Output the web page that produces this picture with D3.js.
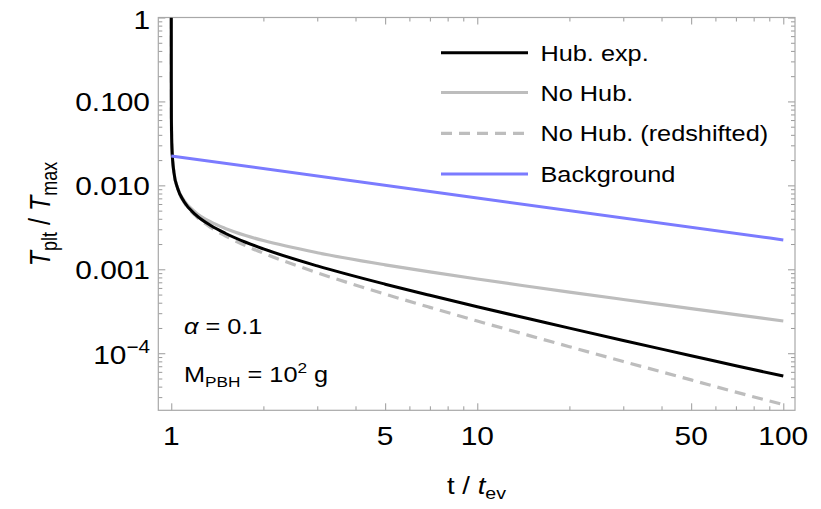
<!DOCTYPE html>
<html><head><meta charset="utf-8">
<script src="https://cdn.jsdelivr.net/npm/d3@7"></script>
<style>
html,body{margin:0;padding:0;background:#fff;}
text{font-family:"Liberation Sans",Arial,sans-serif;fill:#000;}
</style></head>
<body><svg id="chart" width="821" height="509"></svg>
<script>
// ---- data ----
const tVals    = [1, 1.0001, 1.001, 1.005, 1.02, 1.05, 1.1, 1.2, 1.35, 1.5, 1.75, 2, 3, 5, 7, 10, 15, 20, 30, 50, 70, 100];
const hubExp   = [1, 0.183, 0.0605, 0.0280, 0.0143, 0.00912, 0.00643, 0.00448, 0.00330, 0.00269, 0.00210, 0.00175, 0.001098, 0.000665, 0.000490, 0.000358, 0.000254, 0.000199, 0.000142, 0.0000935, 0.0000709, 0.0000535];
const noHub    = [1, 0.183, 0.0605, 0.0280, 0.01439, 0.00927, 0.00664, 0.00476, 0.00364, 0.00307, 0.002526, 0.0022, 0.001577, 0.001131, 0.000931, 0.000766, 0.000620, 0.000535, 0.000437, 0.000340, 0.000288, 0.000242];
const noHubRed = [1, 0.183, 0.0605, 0.0279, 0.01425, 0.00905, 0.00633, 0.00435, 0.00313, 0.00251, 0.00191, 0.001556, 0.000911, 0.000506, 0.000352, 0.000242, 0.000160, 0.0001197, 0.0000798, 0.0000481, 0.0000344, 0.0000245];
const bgT      = [1, 10, 100];
const bgVals   = [0.0224, 0.00708, 0.00224];
const seriesNames = ["Hub. exp.", "No Hub.", "No Hub. (redshifted)", "Background"];
const xMajor = [1, 5, 10, 50, 100];
const xMajorLabels = ["1", "5", "10", "50", "100"];
const xMinor = [2, 3, 4, 6, 7, 8, 9, 20, 30, 40, 60, 70, 80, 90];
const yMajor = [1, 0.1, 0.01, 0.001, 0.0001];
const yMajorLabels = ["1", "0.100", "0.010", "0.001", "10|−4"];

// ---- layout ----
const svg = d3.select("#chart");
const L = 158.3, R = 795, T = 17.5, B = 410.3;
const SX = 1.15;
const x = d3.scaleLog().domain([0.907, 109.2]).range([L, R]);
const y = d3.scaleLog().domain([2.09e-5, 1]).range([B, T]);

const yMinor = [];
[1e-5, 1e-4, 1e-3, 1e-2, 1e-1].forEach(d => { for (let k = 2; k <= 9; k++) { const v = d * k; if (v >= 2.09e-5 && v < 1) yMinor.push(v); } });

svg.append("clipPath").attr("id", "clip").append("rect")
  .attr("x", L).attr("y", T).attr("width", R - L).attr("height", B - T);

// ---- ticks (inward on all four sides) ----
const tickColor = "#9a9a9a";
function styleAxis(g) {
  g.select(".domain").remove();
  g.selectAll(".tick line").attr("stroke", tickColor).attr("stroke-width", 1);
  g.selectAll(".tick text").remove();
}
[[d3.axisBottom, B, -7, xMajor], [d3.axisBottom, B, -4, xMinor], [d3.axisTop, T, -7, xMajor], [d3.axisTop, T, -4, xMinor]]
  .forEach(([ax, pos, len, vals]) => {
    svg.append("g").attr("transform", `translate(0,${pos})`)
      .call(ax(x).tickValues(vals).tickSize(len).tickFormat(() => "")).call(styleAxis);
  });
[[d3.axisLeft, L, -7, yMajor], [d3.axisLeft, L, -4, yMinor], [d3.axisRight, R, -7, yMajor], [d3.axisRight, R, -4, yMinor]]
  .forEach(([ax, pos, len, vals]) => {
    svg.append("g").attr("transform", `translate(${pos},0)`)
      .call(ax(y).tickValues(vals).tickSize(len).tickFormat(() => "")).call(styleAxis);
  });

// frame
svg.append("rect").attr("x", L).attr("y", T).attr("width", R - L).attr("height", B - T)
  .attr("fill", "none").attr("stroke", "#a8a8a8").attr("stroke-width", 1.2);

// ---- curves ----
const line = d3.line().x(d => x(d[0])).y(d => y(d[1])).curve(d3.curveMonotoneX);
const plot = svg.append("g").attr("clip-path", "url(#clip)");
const series = [
  { vals: noHub, t: tVals, color: "#bdbdbd", dash: null, w: 3.2 },
  { vals: noHubRed, t: tVals, color: "#bdbdbd", dash: "11,7", w: 3.2 },
  { vals: hubExp, t: tVals, color: "#000000", dash: null, w: 3 },
  { vals: bgVals, t: bgT, color: "#7b7bff", dash: null, w: 3 }
];
series.forEach(s => {
  plot.append("path").datum(s.t.map((t, i) => [t, s.vals[i]]))
    .attr("d", line).attr("fill", "none").attr("stroke", s.color)
    .attr("stroke-width", s.w).attr("stroke-dasharray", s.dash);
});

// ---- text helper (Mathematica export is horizontally stretched) ----
function stext(px, py, size, anchor) {
  return svg.append("text").attr("transform", `translate(${px},${py}) scale(${SX},1)`)
    .attr("font-size", size).attr("text-anchor", anchor || "start");
}

// x tick labels
xMajor.forEach((v, i) => stext(x(v), 445, 26, "middle").text(xMajorLabels[i]));
// y tick labels
yMajor.forEach((v, i) => {
  const lab = yMajorLabels[i];
  const base = (i === 0 ? y(v) + 11 : y(v) + 9.5);
  if (lab.includes("|")) {
    const [b, e] = lab.split("|");
    const t = stext(150, y(v) + 11, 26, "end");
    t.append("tspan").text(b);
    t.append("tspan").attr("font-size", 18).attr("dy", -11).text(e);
  } else {
    stext(150, base, 26, "end").text(lab);
  }
});

// axis titles
const xt = stext(476.5, 494, 24, "middle");
xt.append("tspan").text("t / ");
xt.append("tspan").attr("font-style", "italic").text("t");
xt.append("tspan").attr("font-size", 17).attr("dy", 5).text("ev");

const yt = svg.append("text").attr("transform", `translate(50,214) scale(1.2,1) rotate(-90)`)
  .attr("font-size", 25).attr("text-anchor", "middle");
yt.append("tspan").attr("font-style", "italic").text("T");
yt.append("tspan").attr("font-size", 18).attr("dy", 6).text("plt");
yt.append("tspan").attr("dy", -6).text(" / ");
yt.append("tspan").attr("font-style", "italic").text("T");
yt.append("tspan").attr("font-size", 18).attr("dy", 6).text("max");

// annotations
const a1 = stext(184, 334, 22);
a1.append("tspan").attr("font-style", "italic").text("α");
a1.append("tspan").text(" = 0.1");
const a2 = stext(184, 382, 22);
a2.append("tspan").text("M");
a2.append("tspan").attr("font-size", 15).attr("dy", 5).text("PBH");
a2.append("tspan").attr("dy", -5).text(" = 10");
a2.append("tspan").attr("font-size", 15).attr("dy", -9).text("2");
a2.append("tspan").attr("dy", 9).text(" g");

// legend
const legY = [52.7, 92.5, 133.3, 174];
const legStyle = [series[2], series[0], series[1], series[3]];
seriesNames.forEach((n, i) => {
  const s = legStyle[i];
  svg.append("line").attr("x1", 441).attr("x2", 528).attr("y1", legY[i]).attr("y2", legY[i])
    .attr("stroke", s.color).attr("stroke-width", s.w).attr("stroke-dasharray", s.dash);
  stext(540.5, legY[i] + 8, 22).text(n);
});
</script></body></html>
